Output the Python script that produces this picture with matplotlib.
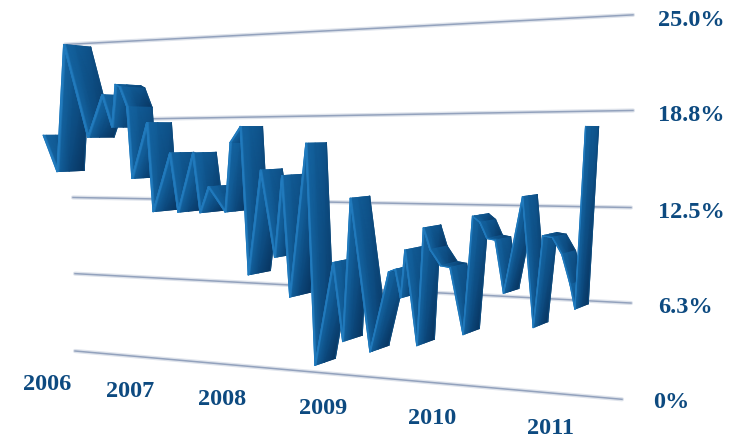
import numpy as np
import matplotlib
matplotlib.use('Agg')
import matplotlib.pyplot as plt
from matplotlib.colors import LinearSegmentedColormap

# ------ data ------
years = [2006, 2007, 2008, 2009, 2010, 2011]
value_ticks = [25.0, 18.8, 12.5, 6.3, 0]
value_labels = ['25.0%', '18.8%', '12.5%', '6.3%', '0%']

dates = [2005.95, 2006.12, 2006.20, 2006.49, 2006.66, 2006.78, 2006.82, 2006.87, 2006.96,
         2007.02, 2007.18, 2007.25, 2007.43, 2007.52, 2007.68, 2007.76, 2007.85,
         2008.03, 2008.08, 2008.18, 2008.26, 2008.38, 2008.52, 2008.59, 2008.67, 2008.83, 2008.92,
         2009.09, 2009.18, 2009.25, 2009.43, 2009.60, 2009.66, 2009.71, 2009.75, 2009.86, 2009.92, 2009.98,
         2010.07, 2010.15, 2010.26, 2010.34, 2010.40, 2010.46, 2010.53, 2010.60, 2010.76, 2010.85, 2010.93,
         2011.01, 2011.09, 2011.16, 2011.20, 2011.29]
rates = [17.6, 14.6, 25.0, 17.4, 20.8, 18.2, 21.6, 21.4, 19.8,
         14.1, 18.5, 11.5, 16.1, 11.5, 16.1, 11.5, 13.5,
         11.6, 16.9, 18.1, 6.9, 14.8, 8.3, 14.4, 5.4, 16.8, 0.5,
         8.1, 2.4, 12.8, 1.8, 7.6, 7.8, 5.8, 9.2, 2.5, 10.8, 9.3,
         8.2, 8.1, 3.5, 11.7, 11.3, 10.2, 10.1, 6.5, 13.1, 4.3, 10.5,
         10.4, 9.3, 7.3, 5.7, 17.8]

# ------ perspective scale, everything in image pixels ------
W, H = 734, 440
scale_years = [2005, 2006, 2007, 2008, 2009, 2010, 2011, 2012]
scale_px = [-30, 47, 130, 222, 323, 432, 551, 670]


def xpos(year):
    return np.interp(year, scale_years, scale_px)


def ypos(x, v):
    y0 = 351 + 0.0883 * (x - 75)
    span = 307 + 0.1405 * (x - 75)
    return y0 - np.asarray(v) / 25.0 * span


fig = plt.figure(figsize=(W / 100, H / 100), dpi=100)
ax = fig.add_axes([0, 0, 1, 1])
ax.set_xlim(0, W)
ax.set_ylim(H, 0)
ax.axis('off')

# grid lines
grid_ends = [(65, 633), (150, 633), (73, 631), (75, 631), (75, 622)]
for v, (xa, xb) in zip(value_ticks, grid_ends):
    xs = np.array([xa, xb])
    ax.plot(xs, ypos(xs, v), color='#c9d1df', lw=3.0, alpha=0.6, zorder=1, solid_capstyle='round')
    ax.plot(xs, ypos(xs, v), color='#93a2bd', lw=1.1, zorder=2)

# ribbon: front edge is the series, back edge is pushed into the depth
fx = xpos(np.array(dates))
fy = ypos(fx, rates)
bx = fx + 27 - 14 * (fx - 65) / 525
by = fy + 0.03 * (130 - fy)

ribbon = LinearSegmentedColormap.from_list('ribbon', ['#2a88cc', '#14639f', '#0f568f', '#08345f'])
depth = np.array([0.0, 0.12, 0.45, 1.0])

z = 5
for i in range(len(fx) - 1):
    px = np.array([fx[i] + depth * (bx[i] - fx[i]), fx[i + 1] + depth * (bx[i + 1] - fx[i + 1])])
    py = np.array([fy[i] + depth * (by[i] - fy[i]), fy[i + 1] + depth * (by[i + 1] - fy[i + 1])])
    # low end of each segment goes darker
    low = np.array([fy[i] > fy[i + 1], fy[i + 1] > fy[i]], dtype=float)[:, None]
    shade = np.array([[0.0, 0.33, 0.55, 0.72]] * 2) + low * np.array([[0.0, 0.15, 0.25, 0.28]])
    ax.pcolormesh(px, py, shade, shading='gouraud', cmap=ribbon, vmin=0, vmax=1, zorder=z)
    # soft outline so the gouraud edges are not jagged
    ax.plot([bx[i], bx[i + 1]], [by[i], by[i + 1]], color='#0c4a7d', lw=0.8, zorder=z)
    ax.plot([fx[i], fx[i + 1]], [fy[i], fy[i + 1]], color='#1f78bb', lw=0.8, zorder=z)
    z += 1

# labels
label_font = dict(family='Liberation Serif', weight='bold', size=17.5, color='#0d4a80')
label_x = [658, 658, 658, 658, 653]
label_dy = [5, 5, 5, 5, 2]
for v, lab, lx, dy in zip(value_ticks, value_labels, label_x, label_dy):
    ax.text(lx, ypos(630, v) + dy, lab, ha='left', va='center', **label_font)
for yr in years:
    x = xpos(yr)
    ax.text(x, ypos(x, 0) + 35.5, str(yr), ha='center', va='center', **label_font)

fig.savefig('out.png', dpi=100)
